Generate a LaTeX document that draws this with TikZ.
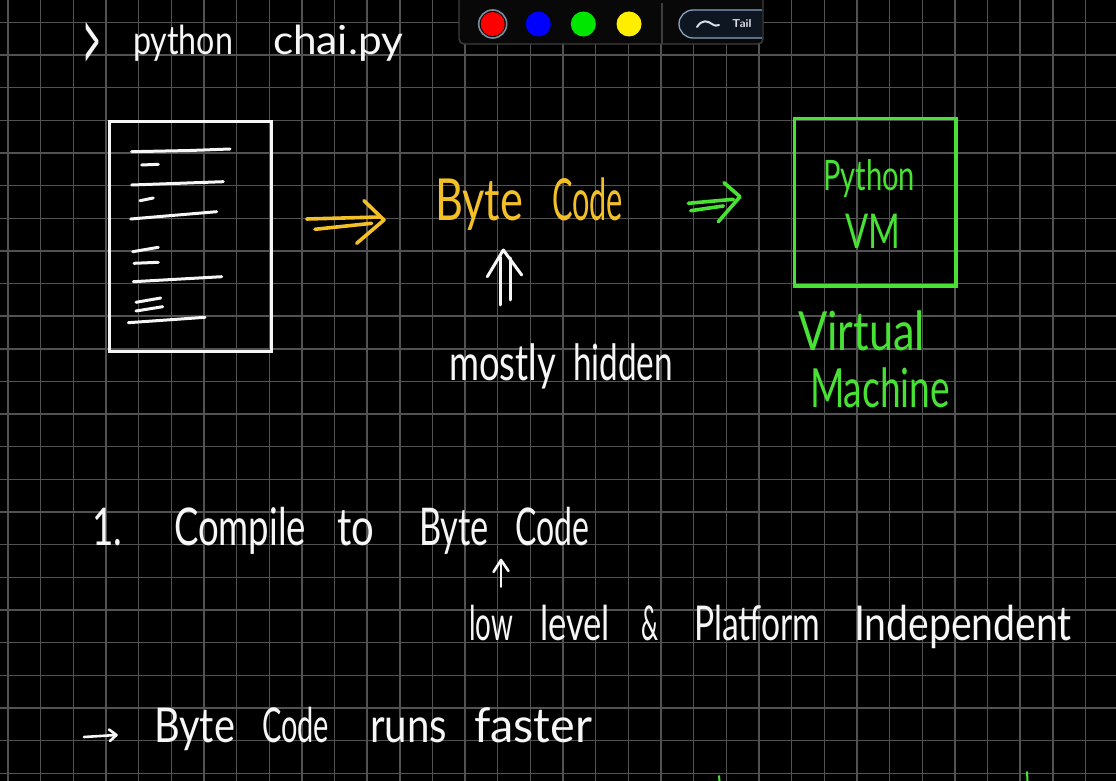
\documentclass[tikz,border=0pt]{standalone}
\usepackage{fontspec}
\setmainfont{Lato}
\usepackage{graphicx}
\definecolor{gridc}{RGB}{82,82,82}
\definecolor{pwhite}{RGB}{246,246,246}
\definecolor{pyellow}{RGB}{244,192,40}
\definecolor{pgreen}{RGB}{72,226,52}
\definecolor{panelbg}{RGB}{8,8,8}
\definecolor{panelline}{RGB}{62,62,62}
\definecolor{pillbg}{RGB}{14,22,34}
\definecolor{pillline}{RGB}{138,163,191}
\definecolor{ringc}{RGB}{122,142,160}
\definecolor{tailtext}{RGB}{216,221,229}
\newcommand{\fitw}[3]{\resizebox{#1pt}{\height}{\fontsize{#2}{#2}\selectfont #3}}
\tikzset{
  gridline/.style={gridc, line width=1.4},
  txt/.style={anchor=base west, inner sep=0, outer sep=0},
  pen/.style={line width=3, line cap=round, line join=round},
  boxnode/.style={anchor=north west, inner sep=0, line width=3.2},
}
\begin{document}
\begin{tikzpicture}[x=1pt, y=-1pt]
\useasboundingbox (0,0) rectangle (1116,781);
\fill[black] (0,0) rectangle (1116,781);
% grid
\foreach \i in {0,...,33} \draw[gridline] ({8+32.65*\i},0) -- ({8+32.65*\i},781);
\foreach \j in {0,...,23} \draw[gridline] (0,{22.3+32.65*\j}) -- (1116,{22.3+32.65*\j});

% toolbar
\draw[fill=panelbg, draw=panelline, line width=1.4, rounded corners=5] (459,-8) rectangle (763,44);
\draw[panelline, line width=1.4] (662,3) -- (662,44);
\begin{scope}
  \clip (459,-8) rectangle (762,44);
  \draw[fill=pillbg, draw=pillline, line width=1.3, rounded corners=14] (679,10) rectangle (800,38);
\end{scope}
\draw[ringc, line width=1.6] (492.7,24) circle (14);
\node[circle, fill=red, minimum size=24, inner sep=0] (cred) at (492.7,24) {};
\node[circle, fill={rgb,255:red,0;green,0;blue,255}, minimum size=25, inner sep=0] (cblue) at (538.3,24) {};
\node[circle, fill={rgb,255:red,0;green,230;blue,0}, minimum size=25, inner sep=0] (cgreen) at (583.3,24) {};
\node[circle, fill={rgb,255:red,255;green,238;blue,0}, minimum size=25, inner sep=0] (cyellow) at (629,24) {};
\draw[tailtext, line width=2, line cap=round] (697,27) .. controls (702,19) and (708,21) .. (712,24) .. controls (715,26) and (717,26) .. (719,25);
\node[anchor=west, inner sep=0, text=tailtext, font=\sffamily\bfseries\fontsize{11.5}{11.5}\selectfont] (tail) at (732,24) {Tail};

% command line
\node[txt, text=pwhite] (prompt) at (82,73) {\resizebox{19pt}{50pt}{\fontsize{40}{40}\selectfont >}};
\node[txt, text=pwhite] (cmd1) at (133,55) {\fitw{100}{40}{python}};
\node[txt, text=pwhite] (cmd2) at (273,55) {\fitw{130}{40}{chai.py}};

% source document
\node[boxnode, draw=pwhite, minimum width=162, minimum height=229.5] (doc) at (108,120) {};
\begin{scope}[pwhite, pen, line width=3]
  \draw (131.7,151.7) -- (190,150.5) -- (230,149);
  \draw (141.7,165) -- (158.3,164.3);
  \draw (131.7,185) -- (223.3,181.7);
  \draw (140,200.7) -- (153.3,198);
  \draw (130.7,219) -- (216.7,211.7);
  \draw (132.7,251.7) -- (158.3,247.3);
  \draw (134,263.3) -- (158.3,262.3);
  \draw (133.3,281.7) -- (221.7,276.7);
  \draw (136,302.3) -- (160.7,298);
  \draw (136,311) -- (162.7,306.7);
  \draw (128.3,322.7) -- (205,317.3);
\end{scope}

% yellow double arrow
\begin{scope}[pyellow, pen, line width=3.6]
  \draw (306.7,219) -- (380,217);
  \draw (315,229.3) -- (371.7,223.3);
  \draw (364,200.7) -- (384,220) -- (356.7,243.3);
\end{scope}

% Byte Code
\node[txt, text=pyellow] (bc1) at (435,220) {\fitw{88}{58}{Byte}};
\node[txt, text=pyellow] (bc2) at (552,220) {\fitw{71}{58}{Code}};

% white up double arrow
\begin{scope}[pwhite, pen, line width=3]
  \draw (500,305) -- (500,257);
  \draw (510,300) -- (510,258);
  \draw (487.3,276.7) -- (503.3,250) -- (521.7,275);
\end{scope}
\node[txt, text=pwhite] (mh1) at (449,380) {\fitw{107}{50}{mostly}};
\node[txt, text=pwhite] (mh2) at (573,380) {\fitw{100}{50}{hidden}};

% green double arrow
\begin{scope}[pgreen, pen, line width=3.6]
  \draw (688.3,203.3) -- (733.3,199.3);
  \draw (690.7,210.7) -- (723.3,206);
  \draw (724,182.7) -- (740,196.7) -- (718.3,221.7);
\end{scope}

% VM box
\node[boxnode, draw=pgreen, line width=3.6, minimum width=161.3, minimum height=167.3] (vm) at (792.7,116.7) {};
\node[txt, text=pgreen] (vm1) at (823,190) {\fitw{92}{42}{Python}};
\node[txt, text=pgreen] (vm2) at (845,248) {\fitw{55}{48}{VM}};
\node[txt, text=pgreen] (vm3) at (798,350) {\fitw{127}{54}{Virtual}};
\node[txt, text=pgreen] (vm4) at (810,407) {\fitw{140}{54}{Machine}};

% 1. Compile to Byte Code
\node[txt, text=pwhite] (l1a) at (92,545) {\fitw{30}{52}{1.}};
\node[txt, text=pwhite] (l1b) at (174,545) {\fitw{132}{52}{Compile}};
\node[txt, text=pwhite] (l1c) at (337,545) {\fitw{37}{52}{to}};
\node[txt, text=pwhite] (l1d) at (419,545) {\fitw{70}{52}{Byte}};
\node[txt, text=pwhite] (l1e) at (515,545) {\fitw{74}{52}{Code}};
\begin{scope}[pwhite, pen, line width=2.6]
  \draw (501,586.7) -- (501,561);
  \draw (493.5,572) -- (501,560) -- (508.5,571);
\end{scope}

% low level & Platform Independent
\node[txt, text=pwhite] (l2a) at (469,640) {\fitw{44}{48}{low}};
\node[txt, text=pwhite] (l2b) at (540,640) {\fitw{70}{48}{level}};
\node[txt, text=pwhite] (l2c) at (641,640) {\fitw{17}{48}{\&}};
\node[txt, text=pwhite] (l2d) at (694,640) {\fitw{126}{48}{Platform}};
\node[txt, text=pwhite] (l2e) at (854,640) {\fitw{218}{48}{Independent}};

% -> Byte Code runs faster
\begin{scope}[pwhite, pen, line width=2.6]
  \draw (84,737) -- (116,735);
  \draw (109,729.5) -- (116.5,735) -- (110,741);
\end{scope}
\node[txt, text=pwhite] (l3a) at (154,742) {\fitw{81}{48}{Byte}};
\node[txt, text=pwhite] (l3b) at (262,742) {\fitw{67}{48}{Code}};
\node[txt, text=pwhite] (l3c) at (370,742) {\fitw{77}{48}{runs}};
\node[txt, text=pwhite] (l3d) at (474,742) {\fitw{118}{48}{faster}};

% tiny green marks at bottom edge
\draw[pgreen, pen, line width=2] (719,776) -- (719.5,781);
\draw[pgreen, pen, line width=2] (1027,772) -- (1027.5,781);
\end{tikzpicture}
\end{document}
